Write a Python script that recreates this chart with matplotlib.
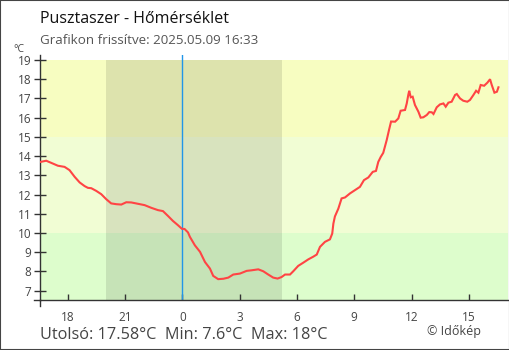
import matplotlib
matplotlib.use("Agg")
import matplotlib.pyplot as plt
from matplotlib.patches import Rectangle
from matplotlib.lines import Line2D

plt.rcParams['font.family'] = ['Open Sans', 'DejaVu Sans']

# Hours relative to midnight (negative = previous evening) and temperature in °C
hours = [-7.41, -7.12, -6.86, -6.51, -6.16, -5.90, -5.63, -5.37, -5.11, -4.94,
         -4.76, -4.50, -4.24, -3.98, -3.72, -3.46, -3.19, -2.93, -2.67, -2.32,
         -1.97, -1.62, -1.27, -1.01, -0.75, -0.49, -0.23, -0.02, 0.12, 0.30,
         0.40, 0.66, 0.93, 1.19, 1.45, 1.62, 1.88, 2.15, 2.41, 2.67,
         3.02, 3.37, 3.63, 3.98, 4.24, 4.50, 4.76, 4.99, 5.20, 5.38,
         5.64, 5.81, 6.07, 6.34, 6.60, 6.86, 7.04, 7.21, 7.47, 7.73,
         7.85, 7.91, 7.99, 8.17, 8.34, 8.52, 8.78, 9.04, 9.30, 9.51,
         9.74, 9.97, 10.14, 10.26, 10.39, 10.52, 10.70, 10.82, 10.93, 11.14,
         11.31, 11.43, 11.66, 11.75, 11.83, 11.88, 11.96, 12.06, 12.18, 12.36,
         12.48, 12.62, 12.80, 12.93, 13.06, 13.15, 13.32, 13.49, 13.67, 13.79,
         13.93, 14.10, 14.28, 14.37, 14.54, 14.71, 14.92, 15.06, 15.24, 15.38,
         15.50, 15.62, 15.80, 15.97, 16.11, 16.20, 16.34, 16.47, 16.55]
temps = [13.70, 13.76, 13.65, 13.50, 13.44, 13.27, 12.92, 12.63, 12.44, 12.35,
         12.33, 12.19, 12.02, 11.76, 11.54, 11.50, 11.48, 11.60, 11.59, 11.52,
         11.45, 11.31, 11.19, 11.14, 10.89, 10.63, 10.41, 10.22, 10.21, 10.03,
         9.80, 9.36, 9.02, 8.49, 8.15, 7.77, 7.60, 7.62, 7.68, 7.84,
         7.89, 8.03, 8.06, 8.11, 8.01, 7.84, 7.68, 7.63, 7.71, 7.84,
         7.84, 8.01, 8.29, 8.46, 8.63, 8.77, 8.88, 9.28, 9.54, 9.67,
         9.97, 10.49, 10.86, 11.27, 11.80, 11.85, 12.06, 12.23, 12.40, 12.75,
         12.89, 13.18, 13.23, 13.70, 13.96, 14.17, 14.83, 15.35, 15.80, 15.79,
         15.96, 16.36, 16.40, 16.74, 17.18, 17.40, 17.06, 17.09, 16.66, 16.31,
         16.00, 16.02, 16.14, 16.29, 16.28, 16.19, 16.54, 16.69, 16.74, 16.57,
         16.78, 16.83, 17.18, 17.23, 17.00, 16.88, 16.83, 16.92, 17.18, 17.40,
         17.30, 17.70, 17.66, 17.82, 18.00, 17.70, 17.30, 17.35, 17.58]

tick_hours = [-6, -3, 0, 3, 6, 9, 12, 15]
tick_labels = ['18', '21', '0', '3', '6', '9', '12', '15']
y_ticks = list(range(7, 20))

night_start, night_end = -4.0, 5.2
x_min, x_max = -7.43, 17.05
y_min, y_max, band_top = 6.515, 19.26, 19.0

fig = plt.figure(figsize=(5.10, 3.50), dpi=100)
fig.patch.set_facecolor('white')
ax = fig.add_axes([40.3 / 510, 50 / 350, (508 - 40.3) / 510, (300 - 55) / 350])
ax.set_xlim(x_min, x_max)
ax.set_ylim(y_min, y_max)

# Temperature bands
ax.axhspan(y_min, 10, color='#ddfdcc', lw=0, zorder=0)
ax.axhspan(10, 15, color='#f1fdd4', lw=0, zorder=0)
ax.axhspan(15, band_top, color='#f7fdc1', lw=0, zorder=0)
# Night shading
ax.add_patch(Rectangle((night_start, y_min), night_end - night_start, band_top - y_min,
                       facecolor='black', alpha=0.1, lw=0, zorder=1))
# Midnight marker
ax.axvline(0, color='#2196e8', lw=1, zorder=2)

ax.plot(hours, temps, color='#ff4444', lw=1.5, zorder=3, solid_joinstyle='miter')

for side in ['top', 'right']:
    ax.spines[side].set_visible(False)
for side in ['left', 'bottom']:
    ax.spines[side].set_color('#333333')
    ax.spines[side].set_linewidth(1)

ax.set_yticks(y_ticks)
ax.set_yticklabels([str(v) for v in y_ticks])
ax.tick_params(axis='y', direction='inout', length=8.6, width=1, color='#333333',
               labelsize=8.5, labelcolor='#444444', pad=2)
ax.set_xticks(tick_hours)
ax.set_xticklabels(tick_labels)
ax.tick_params(axis='x', direction='in', length=4.3, width=1, color='#333333',
               labelsize=8.5, labelcolor='#444444', pad=8)

# Axis overhang at the corner
ax.add_line(Line2D([-6 / 467.7, 0], [0, 0], transform=ax.transAxes, color='#333333',
                   lw=1, clip_on=False))
ax.add_line(Line2D([0, 0], [-6 / 245, 0], transform=ax.transAxes, color='#333333',
                   lw=1, clip_on=False))

fig.text(13 / 510, 1 - 51.5 / 350, '°C', fontsize=7.5, color='#444444', va='baseline', ha='left')
fig.text(40 / 510, 1 - 23 / 350, 'Pusztaszer - Hőmérséklet', fontsize=11.5,
         color='#111111', va='baseline', ha='left')
fig.text(40 / 510, 1 - 44.5 / 350, 'Grafikon frissítve: 2025.05.09 16:33', fontsize=9.6,
         color='#555555', va='baseline', ha='left')

last_t = temps[-1]
min_t = min(temps)
max_t = max(temps)
fig.text(40 / 510, 1 - 339 / 350,
         f'Utolsó: {last_t:.2f}°C  Min: {min_t:g}°C  Max: {max_t:g}°C',
         fontsize=11.7, color='#444444', va='baseline', ha='left')
fig.text(481.5 / 510, 1 - 335 / 350, '© Időkép', fontsize=9, color='#444444',
         va='baseline', ha='right')

fig.add_artist(Rectangle((0, 0), 1, 1, transform=fig.transFigure, fill=False,
                         edgecolor='#444444', lw=1.5))

fig.savefig('out.png', dpi=100)
